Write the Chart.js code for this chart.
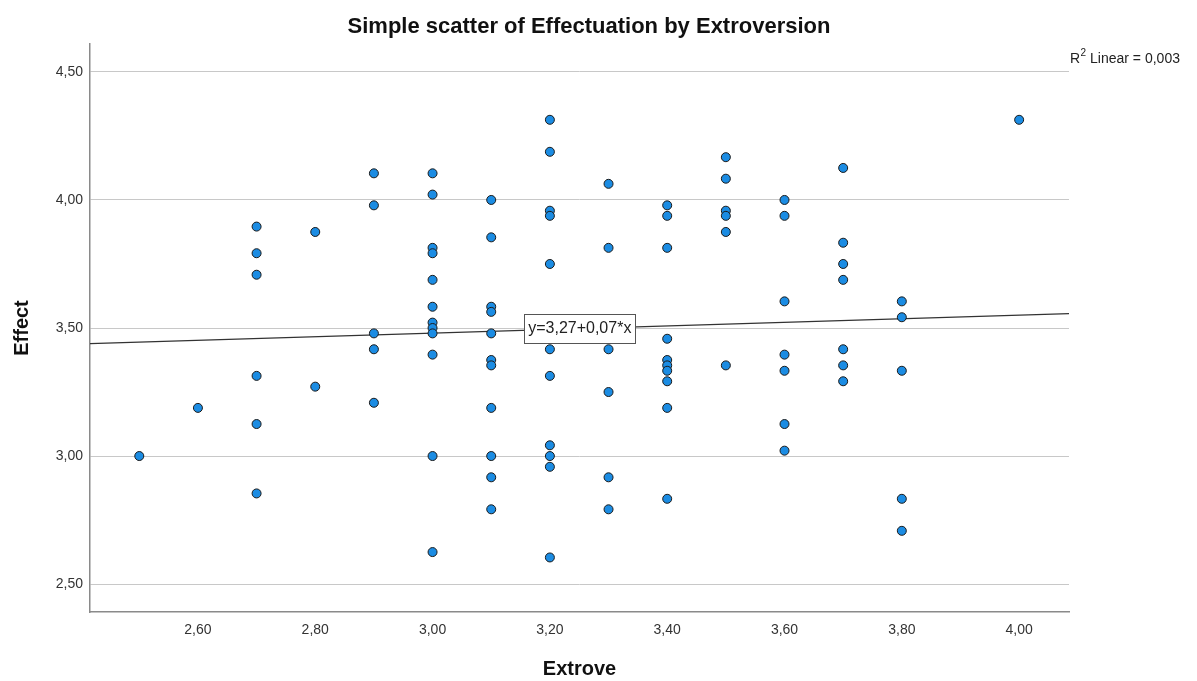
<!DOCTYPE html>
<html>
<head>
<meta charset="utf-8">
<script src="https://cdn.jsdelivr.net/npm/chart.js@4/dist/chart.umd.min.js"></script>
<style>
  html, body { margin: 0; padding: 0; background: #ffffff; }
  #wrap { position: relative; width: 1197px; height: 681px; }
</style>
</head>
<body>
<div id="wrap"><canvas id="chart"></canvas></div>
<script>
const chartTitle = "Simple scatter of Effectuation by Extroversion";
const xAxisTitle = "Extrove";
const yAxisTitle = "Effect";

const xTicks = [2.6, 2.8, 3.0, 3.2, 3.4, 3.6, 3.8, 4.0];
const yTicks = [2.5, 3.0, 3.5, 4.0, 4.5];

// one entry per respondent
const extrove = [
  2.5,
  2.6,
  2.7, 2.7, 2.7, 2.7, 2.7, 2.7,
  2.8, 2.8,
  2.9, 2.9, 2.9, 2.9, 2.9,
  3.0, 3.0, 3.0, 3.0, 3.0, 3.0, 3.0, 3.0, 3.0, 3.0, 3.0, 3.0,
  3.1, 3.1, 3.1, 3.1, 3.1, 3.1, 3.1, 3.1, 3.1, 3.1, 3.1,
  3.2, 3.2, 3.2, 3.2, 3.2, 3.2, 3.2, 3.2, 3.2, 3.2, 3.2,
  3.3, 3.3, 3.3, 3.3, 3.3, 3.3,
  3.4, 3.4, 3.4, 3.4, 3.4, 3.4, 3.4, 3.4, 3.4, 3.4,
  3.5, 3.5, 3.5, 3.5, 3.5, 3.5,
  3.6, 3.6, 3.6, 3.6, 3.6, 3.6, 3.6,
  3.7, 3.7, 3.7, 3.7, 3.7, 3.7, 3.7,
  3.8, 3.8, 3.8, 3.8, 3.8,
  4.0
];
const effect = [
  3.0,
  3.188,
  3.896, 3.792, 3.708, 3.313, 3.125, 2.854,
  3.875, 3.271,
  4.104, 3.979, 3.479, 3.417, 3.208,
  4.104, 4.021, 3.813, 3.792, 3.688, 3.583, 3.521, 3.5, 3.479, 3.396, 3.0, 2.625,
  4.0, 3.854, 3.583, 3.563, 3.479, 3.375, 3.354, 3.188, 3.0, 2.917, 2.792,
  4.313, 4.188, 3.958, 3.938, 3.75, 3.417, 3.313, 3.042, 3.0, 2.958, 2.604,
  4.063, 3.813, 3.417, 3.25, 2.917, 2.792,
  3.979, 3.938, 3.813, 3.458, 3.375, 3.354, 3.333, 3.292, 3.188, 2.833,
  4.167, 4.083, 3.958, 3.938, 3.875, 3.354,
  4.0, 3.938, 3.604, 3.396, 3.333, 3.125, 3.021,
  4.125, 3.833, 3.75, 3.688, 3.417, 3.354, 3.292,
  3.604, 3.542, 3.333, 2.833, 2.708,
  4.313
];

const fitIntercept = 3.27;
const fitSlope = 0.07;
const fitLabel = "y=3,27+0,07*x";
const rSquared = "0,003";

const xMin = 2.416, xMax = 4.085;
const yMin = 2.391, yMax = 4.609;

const fmt = (v) => v.toFixed(2).replace(".", ",");
const font = "'Liberation Sans', Arial, sans-serif";

const points = extrove.map((x, i) => ({x: x, y: effect[i]}));
const fitLine = [xMin, xMax].map((x) => ({x: x, y: fitIntercept + fitSlope * x}));

const annotate = {
  id: "annotate",
  afterDatasetsDraw(chart) {
    const ctx = chart.ctx;
    const cx = chart.scales.x.getPixelForValue(3.251);
    const cy = chart.scales.y.getPixelForValue(3.5);
    ctx.save();
    ctx.font = "16px " + font;
    const w = ctx.measureText(fitLabel).width + 8;
    const h = 29;
    ctx.fillStyle = "#ffffff";
    ctx.fillRect(Math.round(cx - w / 2) + 0.5, Math.round(cy - h / 2) + 0.5, Math.round(w), h);
    ctx.strokeStyle = "#555555";
    ctx.lineWidth = 1;
    ctx.strokeRect(Math.round(cx - w / 2) + 0.5, Math.round(cy - h / 2) + 0.5, Math.round(w), h);
    ctx.fillStyle = "#222222";
    ctx.textAlign = "center";
    ctx.textBaseline = "middle";
    ctx.fillText(fitLabel, cx, cy + 1);
    ctx.restore();
  },
  afterDraw(chart) {
    const ctx = chart.ctx;
    ctx.save();
    ctx.fillStyle = "#111111";
    ctx.textAlign = "center";
    ctx.textBaseline = "middle";
    ctx.font = "bold 22px " + font;
    ctx.fillText(chartTitle, 589, 27);

    const left = chart.chartArea.right + 1;
    ctx.textAlign = "left";
    ctx.textBaseline = "alphabetic";
    ctx.fillStyle = "#222222";
    ctx.font = "14px " + font;
    ctx.fillText("R", left, 63);
    const rw = ctx.measureText("R").width;
    ctx.font = "10px " + font;
    ctx.fillText("2", left + rw + 0.5, 56);
    const sw = ctx.measureText("2").width;
    ctx.font = "14px " + font;
    ctx.fillText(" Linear = " + rSquared, left + rw + sw + 0.5, 63);
    ctx.restore();
  }
};

new Chart(document.getElementById("chart"), {
  type: "scatter",
  data: {
    datasets: [{
      data: points,
      order: 1,
      pointRadius: 4.5,
      pointHoverRadius: 4.5,
      pointBackgroundColor: "#1b8ce3",
      pointBorderColor: "#1a1a1a",
      pointBorderWidth: 1
    }, {
      data: fitLine,
      order: 2,
      showLine: true,
      pointRadius: 0,
      borderColor: "#333333",
      borderWidth: 1.2,
      fill: false
    }]
  },
  options: {
    responsive: true,
    maintainAspectRatio: false,
    animation: false,
    layout: {
      padding: {top: 44, right: 128, bottom: 0, left: 0}
    },
    plugins: {
      legend: {display: false},
      tooltip: {enabled: false}
    },
    scales: {
      x: {
        type: "linear",
        min: xMin,
        max: xMax,
        afterBuildTicks(scale) {
          scale.ticks = xTicks.map((v) => ({value: v}));
        },
        afterFit(scale) {
          scale.height = 69;
        },
        grid: {display: false, drawTicks: false},
        border: {display: true, color: "#8a8a8a", width: 1.5},
        ticks: {
          padding: 10,
          color: "#333333",
          font: {family: font, size: 14},
          maxRotation: 0,
          callback: (v) => fmt(v)
        },
        title: {
          display: true,
          text: xAxisTitle,
          color: "#111111",
          font: {family: font, size: 20, weight: "bold"},
          padding: {top: 0, bottom: 0}
        }
      },
      y: {
        type: "linear",
        min: yMin,
        max: yMax,
        afterBuildTicks(scale) {
          scale.ticks = yTicks.map((v) => ({value: v}));
        },
        afterFit(scale) {
          scale.width = 90;
        },
        grid: {display: true, drawTicks: false, color: "#c8c8c8", lineWidth: 1},
        border: {display: true, color: "#8a8a8a", width: 1.5},
        ticks: {
          padding: 7,
          color: "#333333",
          font: {family: font, size: 14},
          callback: (v) => fmt(v)
        },
        title: {
          display: true,
          text: yAxisTitle,
          color: "#111111",
          font: {family: font, size: 20, weight: "bold"},
          padding: {top: 10, bottom: 0}
        }
      }
    }
  },
  plugins: [annotate]
});
</script>
</body>
</html>
